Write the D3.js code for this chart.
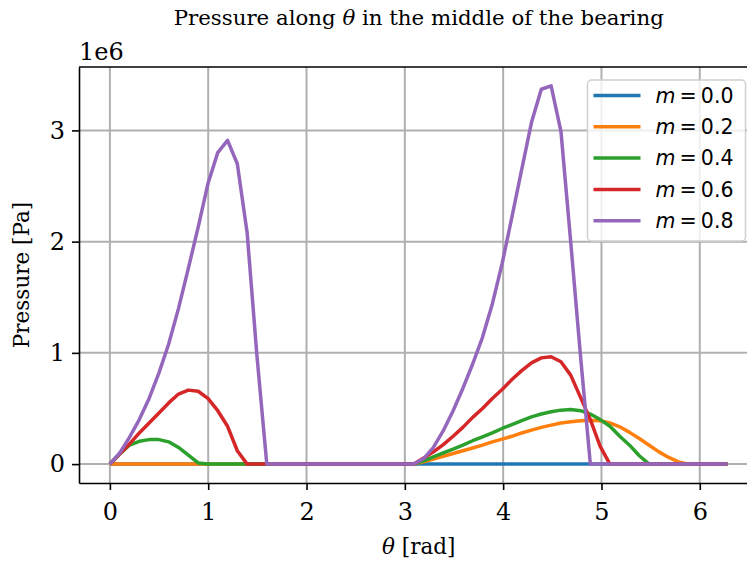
<!DOCTYPE html>
<html>
<head>
<meta charset="utf-8">
<script src="https://cdn.jsdelivr.net/npm/d3@7"></script>
<style>
  body { margin: 0; background: #fff; }
  svg { display: block; }
</style>
</head>
<body>
<script>
// theta grid [rad], 64 points from 0 to 2*pi
var theta = [0.000, 0.100, 0.199, 0.299, 0.399, 0.499, 0.598, 0.698, 0.798, 0.898,
             0.997, 1.097, 1.197, 1.296, 1.396, 1.496, 1.596, 1.695, 1.795, 1.895,
             1.995, 2.094, 2.194, 2.294, 2.394, 2.493, 2.593, 2.693, 2.793, 2.892,
             2.992, 3.092, 3.192, 3.291, 3.391, 3.491, 3.590, 3.690, 3.790, 3.890,
             3.989, 4.089, 4.189, 4.288, 4.388, 4.488, 4.588, 4.687, 4.787, 4.887,
             4.987, 5.086, 5.186, 5.286, 5.385, 5.485, 5.585, 5.684, 5.784, 5.884,
             5.984, 6.083, 6.183, 6.283];

// pressure, in units of 1e6 Pa
var p00 = [0, 0, 0, 0, 0, 0, 0, 0, 0, 0,
           0, 0, 0, 0, 0, 0, 0, 0, 0, 0,
           0, 0, 0, 0, 0, 0, 0, 0, 0, 0,
           0, 0, 0, 0, 0, 0, 0, 0, 0, 0,
           0, 0, 0, 0, 0, 0, 0, 0, 0, 0,
           0, 0, 0, 0, 0, 0, 0, 0, 0, 0,
           0, 0, 0, 0];
var p02 = [0, 0, 0, 0, 0, 0, 0, 0, 0, 0,
           0, 0, 0, 0, 0, 0, 0, 0, 0, 0,
           0, 0, 0, 0, 0, 0, 0, 0, 0, 0,
           0, 0, 0.02, 0.045, 0.07, 0.095, 0.12, 0.145, 0.17, 0.20,
           0.225, 0.25, 0.28, 0.305, 0.33, 0.35, 0.37, 0.38, 0.39, 0.395,
           0.39, 0.37, 0.335, 0.285, 0.23, 0.17, 0.11, 0.06, 0.02, 0,
           0, 0, 0, 0];
var p04 = [0, 0.09, 0.17, 0.205, 0.22, 0.22, 0.20, 0.15, 0.08, 0.01,
           0, 0, 0, 0, 0, 0, 0, 0, 0, 0,
           0, 0, 0, 0, 0, 0, 0, 0, 0, 0,
           0, 0, 0.03, 0.065, 0.10, 0.135, 0.17, 0.21, 0.245, 0.28,
           0.32, 0.355, 0.39, 0.425, 0.45, 0.47, 0.485, 0.49, 0.48, 0.45,
           0.40, 0.34, 0.25, 0.17, 0.075, 0, 0, 0, 0, 0,
           0, 0, 0, 0];
var p06 = [0, 0.09, 0.18, 0.28, 0.37, 0.46, 0.55, 0.63, 0.665, 0.655,
           0.59, 0.48, 0.34, 0.12, 0, 0, 0, 0, 0, 0,
           0, 0, 0, 0, 0, 0, 0, 0, 0, 0,
           0, 0, 0.055, 0.11, 0.175, 0.25, 0.33, 0.42, 0.50, 0.59,
           0.67, 0.76, 0.84, 0.91, 0.955, 0.965, 0.92, 0.80, 0.60, 0.40,
           0.16, 0, 0, 0, 0, 0, 0, 0, 0, 0,
           0, 0, 0, 0];
var p08 = [0, 0.10, 0.24, 0.40, 0.59, 0.82, 1.08, 1.40, 1.76, 2.13,
           2.52, 2.80, 2.91, 2.70, 2.08, 0.97, 0, 0, 0, 0,
           0, 0, 0, 0, 0, 0, 0, 0, 0, 0,
           0, 0, 0.05, 0.15, 0.30, 0.48, 0.68, 0.90, 1.14, 1.44,
           1.80, 2.22, 2.65, 3.07, 3.37, 3.40, 2.99, 2.00, 0.97, 0,
           0, 0, 0, 0, 0, 0, 0, 0, 0, 0,
           0, 0, 0, 0];

var labels = ["0.0", "0.2", "0.4", "0.6", "0.8"];
var colors = ["#1f77b4", "#ff7f0e", "#2ca02c", "#d62728", "#9467bd"];
var xTicks = [0, 1, 2, 3, 4, 5, 6];
var yTicks = [0, 1, 2, 3];

var series = [p00, p02, p04, p06, p08].map(function(vals, k) {
  return { label: labels[k], color: colors[k],
           pts: vals.map(function(v, i) { return [theta[i], v]; }) };
});

var width = 747,
    height = 563;
var mLeft = 79, mRight = 758.5, mTop = 67, mBottom = 483;

var serif = "'DejaVu Serif', serif",
    sans = "'DejaVu Sans', sans-serif";

var x = d3.scaleLinear().domain([-0.3142, 6.5973]).range([mLeft, mRight]);
var y = d3.scaleLinear().domain([-0.17, 3.57]).range([mBottom, mTop]);

var svg = d3.select("body").append("svg")
    .attr("width", width)
    .attr("height", height);

// grid
svg.append("g").selectAll("line")
    .data(xTicks)
  .enter().append("line")
    .attr("x1", function(d) { return x(d); })
    .attr("x2", function(d) { return x(d); })
    .attr("y1", mTop)
    .attr("y2", mBottom)
    .style("stroke", "#b0b0b0")
    .style("stroke-width", 2);

svg.append("g").selectAll("line")
    .data(yTicks)
  .enter().append("line")
    .attr("x1", mLeft)
    .attr("x2", mRight)
    .attr("y1", function(d) { return y(d); })
    .attr("y2", function(d) { return y(d); })
    .style("stroke", "#b0b0b0")
    .style("stroke-width", 2);

// curves
var line = d3.line()
    .x(function(d) { return x(d[0]); })
    .y(function(d) { return y(d[1]); });

svg.append("g").selectAll("path")
    .data(series)
  .enter().append("path")
    .attr("d", function(d) { return line(d.pts); })
    .style("fill", "none")
    .style("stroke", function(d) { return d.color; })
    .style("stroke-width", 3.5)
    .style("stroke-linejoin", "round");

// axes
var xAxis = svg.append("g")
    .attr("transform", "translate(0," + mBottom + ")")
    .call(d3.axisBottom(x).tickValues(xTicks).tickFormat(d3.format("d")).tickSizeInner(7).tickSizeOuter(0).tickPadding(13));
var yAxis = svg.append("g")
    .attr("transform", "translate(" + mLeft + ",0)")
    .call(d3.axisLeft(y).tickValues(yTicks).tickFormat(d3.format("d")).tickSizeInner(7).tickSizeOuter(0).tickPadding(7));

[xAxis, yAxis].forEach(function(a) {
  a.select(".domain").style("stroke", "#000").style("stroke-width", 1.6);
  a.selectAll(".tick line").style("stroke", "#000").style("stroke-width", 1.6);
  a.selectAll(".tick text").style("font-family", serif).style("font-size", "24px").style("fill", "#000");
});

// top spine
svg.append("line")
    .attr("x1", mLeft).attr("x2", mRight)
    .attr("y1", mTop).attr("y2", mTop)
    .style("stroke", "#000").style("stroke-width", 1.6);

// offset text
svg.append("text")
    .attr("x", mLeft)
    .attr("y", 60)
    .style("font-family", serif)
    .style("font-size", "24px")
    .text("1e6");

// title
var title = svg.append("text")
    .attr("x", (mLeft + mRight) / 2)
    .attr("y", 25)
    .attr("text-anchor", "middle")
    .style("font-family", serif)
    .style("font-size", "21.3px");
title.append("tspan").text("Pressure along ");
title.append("tspan").style("font-style", "italic").text("\u03b8");
title.append("tspan").text(" in the middle of the bearing");

// axis labels
var xl = svg.append("text")
    .attr("x", (mLeft + mRight) / 2)
    .attr("y", 554)
    .attr("text-anchor", "middle")
    .style("font-family", serif)
    .style("font-size", "21.5px");
xl.append("tspan").style("font-style", "italic").text("\u03b8");
xl.append("tspan").text(" [rad]");

svg.append("text")
    .attr("transform", "translate(29," + ((mTop + mBottom) / 2) + ") rotate(-90)")
    .attr("text-anchor", "middle")
    .style("font-family", serif)
    .style("font-size", "21.5px")
    .text("Pressure [Pa]");

// legend
var lg = svg.append("g").attr("transform", "translate(587.5,80)");
lg.append("rect")
    .attr("width", 158)
    .attr("height", 161)
    .attr("rx", 4)
    .style("fill", "#fff")
    .style("fill-opacity", 0.8)
    .style("stroke", "#d0d0d0")
    .style("stroke-width", 1.5);

var item = lg.selectAll(".item")
    .data(series)
  .enter().append("g")
    .attr("class", "item")
    .attr("transform", function(d, i) { return "translate(0," + (15.5 + i * 31.3) + ")"; });

item.append("line")
    .attr("x1", 6).attr("x2", 53)
    .style("stroke", function(d) { return d.color; })
    .style("stroke-width", 3.5);

var lt = item.append("text")
    .attr("x", 68)
    .attr("dy", "0.36em")
    .style("font-family", sans)
    .style("font-size", "20.5px");
lt.append("tspan").style("font-style", "italic").text("m");
lt.append("tspan").text(function(d) { return "\u2009=\u2009" + d.label; });
</script>
</body>
</html>
